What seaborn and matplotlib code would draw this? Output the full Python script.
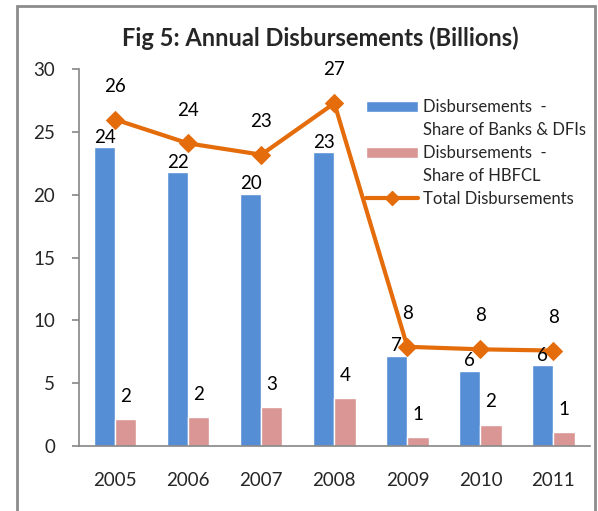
import numpy as np
import pandas as pd
import matplotlib
matplotlib.use("Agg")
import matplotlib.pyplot as plt
import seaborn as sns
from matplotlib.patches import Patch, Rectangle
from matplotlib.lines import Line2D

years = ["2005", "2006", "2007", "2008", "2009", "2010", "2011"]
banks_dfis = [23.8, 21.8, 20.1, 23.4, 7.2, 6.0, 6.45]
hbfcl = [2.15, 2.3, 3.1, 3.8, 0.7, 1.7, 1.1]
total = [26.0, 24.1, 23.2, 27.3, 7.9, 7.7, 7.6]

series_names = ["Disbursements  - Share of Banks & DFIs", "Disbursements  - Share of HBFCL"]
blue = "#558ED5"
pink = "#D99694"
orange = "#E46C0A"
grey = "#868686"

sns.set_style("white")
plt.rcParams["font.family"] = ["Lato", "DejaVu Sans"]

df = pd.DataFrame({
    "year": years * 2,
    "value": banks_dfis + hbfcl,
    "series": [series_names[0]] * len(years) + [series_names[1]] * len(years),
})

fig = plt.figure(figsize=(5.98, 5.11), dpi=100)
ax = fig.add_axes([78.7 / 598, 1 - 446 / 511, (590 - 78.7) / 598, (446 - 69.3) / 511])

sns.barplot(data=df, x="year", y="value", hue="series", palette=[blue, pink],
            width=0.58, gap=0, saturation=1, legend=False, ax=ax, zorder=2)

xs = np.arange(len(years))
sns.lineplot(x=xs, y=total, color=orange, linewidth=3, marker="D", markersize=9,
             markeredgecolor=orange, ax=ax, zorder=4, legend=False)

# data labels
fs = 13.5
for cont, offset, vals in zip(ax.containers, [7.2, 16.5], [banks_dfis, hbfcl]):
    for bar, v in zip(cont, vals):
        cx = bar.get_x() + bar.get_width() / 2
        ax.annotate(f"{v:.0f}", (cx, bar.get_height()), xytext=(0, offset),
                    textcoords="offset points", ha="center", va="center",
                    fontsize=fs, color="black", zorder=5)
for x, v in zip(xs, total):
    ax.annotate(f"{v:.0f}", (x, v), xytext=(0, 24), textcoords="offset points",
                ha="center", va="center", fontsize=fs, color="black", zorder=5)

ax.set_xlim(-0.5, len(years) - 0.5)
ax.set_ylim(0, 30)
ax.set_yticks(range(0, 31, 5))
ax.set_xlabel("")
ax.set_ylabel("")
ax.set_xticks(xs)
ax.set_xticklabels(years)
ax.set_xticks(np.arange(-0.5, len(years), 1.0), minor=True)
ax.tick_params(axis="x", which="major", length=0, pad=19, labelsize=fs)
ax.tick_params(axis="x", which="minor", length=5, width=1.2, color=grey, direction="out")
ax.tick_params(axis="y", length=5, width=1.2, color=grey, direction="out", pad=12, labelsize=fs, left=True)
for side in ["top", "right"]:
    ax.spines[side].set_visible(False)
for side in ["left", "bottom"]:
    ax.spines[side].set_color(grey)
    ax.spines[side].set_linewidth(1.2)
ax.patch.set_alpha(0)

blank = Patch(facecolor="none", edgecolor="none")
handles = [Patch(facecolor=blue), blank, Patch(facecolor=pink), blank,
           Line2D([], [], color=orange, linewidth=3, marker="D", markersize=7)]
labels = ["Disbursements  -", "Share of Banks & DFIs", "Disbursements  -",
          "Share of HBFCL", "Total Disbursements"]
fig.legend(handles, labels, loc="upper left", bbox_to_anchor=(366 / 598, 1 - 99 / 511),
           frameon=False, fontsize=12, handlelength=3.1, handleheight=0.65,
           handletextpad=0.3, labelspacing=0.42, borderpad=0, borderaxespad=0)

fig.text(320 / 598, 1 - 38 / 511, "Fig 5: Annual Disbursements (Billions)",
         ha="center", va="center", fontsize=17, fontweight="bold")

fig.patches.append(Rectangle((17 / 598, -0.02), (595 - 17) / 598, 1.02 - 6 / 511,
                             transform=fig.transFigure, fill=False,
                             edgecolor="#8C8C8C", linewidth=2))

fig.savefig("out.png", dpi=100)
